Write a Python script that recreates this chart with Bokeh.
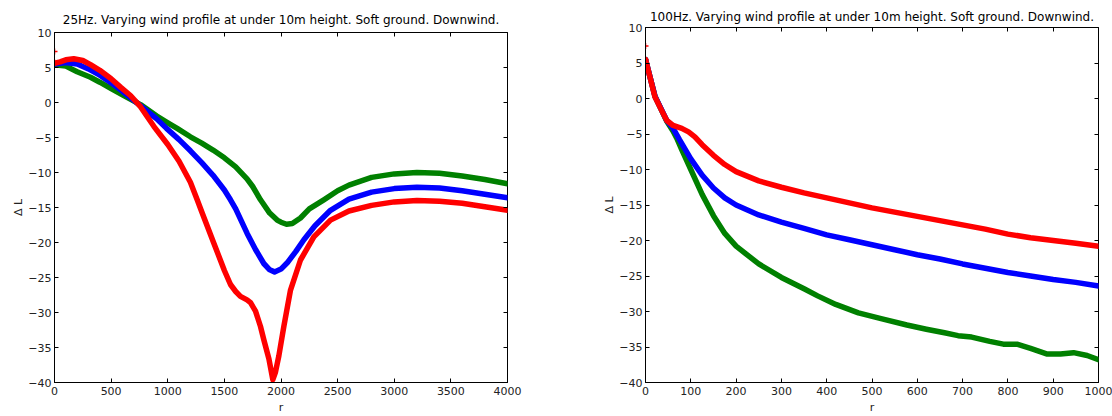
from bokeh.plotting import figure
from bokeh.layouts import row, column
from bokeh.models import Range1d, FixedTicker, LinearAxis
from bokeh.embed import file_html
from bokeh.resources import INLINE

# ---------------- data: left panel (25 Hz) ----------------
left_title = "25Hz. Varying wind profile at under 10m height. Soft ground. Downwind."
left_xticks = [0, 500, 1000, 1500, 2000, 2500, 3000, 3500, 4000]
yticks = [-40, -35, -30, -25, -20, -15, -10, -5, 0, 5, 10]

l_red_r = [0, 50, 100, 170, 250, 318, 400, 500, 583, 671, 759, 877, 1000, 1100, 1200, 1260,
           1300, 1407, 1500, 1554, 1600, 1642, 1700, 1731, 1775, 1819, 1850, 1893, 1928,
           1950, 1981, 2025, 2084, 2172, 2290, 2437, 2600, 2800, 3000, 3200, 3400, 3600, 3800, 4000]
l_red_v = [5.6, 5.8, 6.1, 6.25, 6.0, 5.4, 4.6, 3.4, 2.2, 1.0, -0.6, -3.4, -6.0, -8.4, -11.4, -13.9,
           -15.6, -20.1, -24.0, -26.0, -27.0, -27.7, -28.2, -28.6, -29.8, -32.0, -34.0, -36.6, -39.6,
           -38.6, -36.2, -32.0, -26.8, -22.5, -19.2, -16.8, -15.5, -14.7, -14.2, -14.0, -14.1, -14.4, -14.9, -15.4]

l_blue_r = [0, 100, 200, 300, 400, 465, 500, 600, 700, 800, 900, 989, 1100, 1200, 1300, 1400,
            1500, 1554, 1600, 1701, 1775, 1848, 1900, 1943, 2000, 2055, 2130, 2202, 2300, 2437,
            2600, 2800, 3000, 3200, 3400, 3600, 3800, 4000]
l_blue_v = [5.5, 5.7, 5.5, 4.8, 3.9, 3.2, 2.8, 1.6, 0.3, -1.0, -2.3, -3.7, -5.3, -6.9, -8.6, -10.4,
            -12.5, -13.9, -15.2, -18.7, -21.0, -23.0, -23.9, -24.2, -23.8, -22.9, -21.3, -19.6, -17.6, -15.4,
            -13.8, -12.8, -12.3, -12.1, -12.2, -12.6, -13.1, -13.6]

l_green_r = [0, 100, 200, 318, 400, 500, 612, 759, 900, 1000, 1083, 1200, 1300, 1400, 1500, 1600,
             1700, 1750, 1819, 1900, 1966, 2000, 2049, 2100, 2172, 2250, 2378, 2500, 2600, 2800,
             3000, 3200, 3400, 3600, 3800, 4000]
l_green_v = [5.4, 5.2, 4.4, 3.6, 2.9, 2.0, 1.0, -0.3, -1.9, -2.9, -3.7, -4.9, -5.8, -6.8, -7.9, -9.2,
             -10.9, -12.0, -13.9, -15.8, -16.8, -17.1, -17.4, -17.3, -16.5, -15.2, -13.9, -12.6, -11.8, -10.7,
             -10.2, -10.0, -10.1, -10.5, -11.0, -11.6]

l_mark_r = [0, 0]
l_mark_v = [7.3, 5.7]

# ---------------- data: right panel (100 Hz) ----------------
right_title = "100Hz. Varying wind profile at under 10m height. Soft ground. Downwind."
right_xticks = [0, 100, 200, 300, 400, 500, 600, 700, 800, 900, 1000]

r_red_r = [0, 10, 21, 35, 47, 61, 80, 95, 109, 125, 150, 175, 200, 250, 300, 350, 400, 450, 500,
           550, 600, 650, 700, 750, 800, 850, 900, 950, 1000]
r_red_v = [5.5, 3.0, 0.2, -1.6, -3.1, -3.8, -4.2, -4.7, -5.4, -6.5, -8.0, -9.3, -10.3, -11.6, -12.5,
           -13.3, -14.0, -14.7, -15.4, -16.0, -16.6, -17.2, -17.8, -18.4, -19.1, -19.6, -20.0, -20.4, -20.8]

r_blue_r = [0, 21, 47, 61, 75, 100, 125, 150, 175, 200, 250, 300, 350, 400, 450, 500, 550, 600,
            650, 700, 750, 800, 850, 900, 950, 1000]
r_blue_v = [5.5, 0.3, -3.1, -4.2, -5.8, -8.5, -10.8, -12.6, -14.0, -15.0, -16.4, -17.4, -18.3, -19.2,
            -19.9, -20.6, -21.3, -22.0, -22.6, -23.3, -23.9, -24.5, -25.0, -25.5, -25.9, -26.4]

r_green_r = [0, 21, 47, 61, 69, 80, 100, 125, 150, 175, 200, 250, 300, 350, 380, 420, 470, 520, 577,
             620, 660, 690, 720, 760, 790, 820, 850, 887, 916, 945, 975, 1000]
r_green_v = [5.5, 0.3, -3.2, -4.6, -5.6, -7.2, -10.0, -13.5, -16.5, -19.0, -20.8, -23.3, -25.2, -26.8,
             -27.8, -29.0, -30.2, -31.0, -31.9, -32.5, -33.0, -33.4, -33.6, -34.2, -34.6, -34.6, -35.2,
             -36.0, -36.0, -35.8, -36.2, -36.8]

r_mark_r = [0, 0]
r_mark_v = [7.4, 5.5]

RED, BLUE, GREEN = "#ff0000", "#0000ff", "#008000"
FONT = "DejaVu Sans"


def make_panel(title, xmax, xticks, series, marks, width, bl, br, bt, bb, tstand):
    p = figure(width=width, height=416, output_backend="svg", toolbar_location=None,
               x_range=Range1d(0, xmax), y_range=Range1d(-40, 10),
               min_border_left=bl, min_border_right=br, min_border_top=bt, min_border_bottom=bb,
               title=title)
    p.title.text_font = FONT
    p.title.text_font_size = "12px"
    p.title.text_font_style = "normal"
    p.title.text_color = "#000000"
    p.title.align = "center"
    p.title.standoff = tstand
    p.grid.visible = False
    p.outline_line_color = "#000000"
    p.outline_line_width = 1
    p.background_fill_color = "#ffffff"
    p.border_fill_color = "#ffffff"

    for ax in p.xaxis:
        ax.ticker = FixedTicker(ticks=xticks)
        ax.axis_label = "r"
    for ax in p.yaxis:
        ax.ticker = FixedTicker(ticks=yticks)
        ax.axis_label = "\u0394 L"
    for ax in list(p.xaxis) + list(p.yaxis):
        ax.major_tick_in = 4
        ax.major_tick_out = 0
        ax.minor_tick_line_color = None
        ax.major_tick_line_color = "#000000"
        ax.axis_line_color = "#000000"
        ax.major_label_text_font = FONT
        ax.major_label_text_font_size = "11px"
        ax.major_label_text_color = "#222222"
        ax.major_label_standoff = 3
        ax.axis_label_text_font = FONT
        ax.axis_label_text_font_size = "11px"
        ax.axis_label_text_font_style = "normal"
        ax.axis_label_text_color = "#222222"
    for ax in p.xaxis:
        ax.major_label_standoff = 4
        ax.axis_label_standoff = 3
    for ax in p.yaxis:
        ax.axis_label_standoff = 0

    top = LinearAxis(ticker=FixedTicker(ticks=xticks), major_tick_in=4, major_tick_out=0,
                     minor_tick_line_color=None, major_label_text_font_size="0px",
                     major_label_text_color=None, major_label_standoff=0, axis_line_color=None)
    right = LinearAxis(ticker=FixedTicker(ticks=yticks), major_tick_in=4, major_tick_out=0,
                       minor_tick_line_color=None, major_label_text_font_size="0px",
                       major_label_text_color=None, major_label_standoff=0, axis_line_color=None)
    p.add_layout(top, "above")
    p.add_layout(right, "right")

    for xs, ys, c in series:
        p.line(xs, ys, line_color=c, line_width=5.5, line_join="round", line_cap="round")
    mx, my = marks
    p.scatter(mx, my, marker="cross", size=6, line_color=RED, line_width=1.5)
    return p


p1 = make_panel(left_title, 4000, left_xticks,
                [(l_green_r, l_green_v, GREEN), (l_blue_r, l_blue_v, BLUE), (l_red_r, l_red_v, RED)],
                (l_mark_r, l_mark_v), 580, 54, 73, 32, 33, 12)
p2 = make_panel(right_title, 1000, right_xticks,
                [(r_green_r, r_green_v, GREEN), (r_blue_r, r_blue_v, BLUE), (r_red_r, r_red_v, RED)],
                (r_mark_r, r_mark_v), 532, 65, 14, 27, 33, 8)

layout = row(column(p1), column(p2))
open("out.html", "w").write(file_html(layout, INLINE))
